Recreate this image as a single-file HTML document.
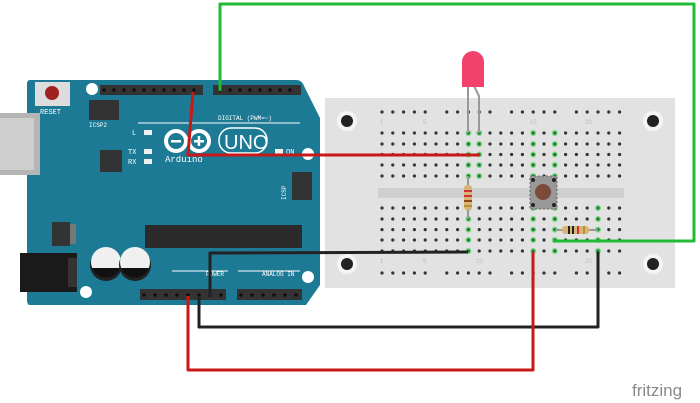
<!DOCTYPE html>
<html><head><meta charset="utf-8"><style>
html,body{margin:0;padding:0;background:#fff;width:700px;height:403px;overflow:hidden}
svg{display:block}
</style></head><body>
<svg id="s" width="700" height="403" viewBox="0 0 700 403" xmlns="http://www.w3.org/2000/svg" font-family="Liberation Mono, monospace">
<!-- breadboard -->
<rect x="325" y="98" width="350" height="190" fill="#e2e2e2"/>
<rect x="378" y="188" width="246" height="10" fill="#cfcfcf"/>
<g id="bbh"></g>
<circle cx="347" cy="121" r="10" fill="#f4f4f4"/><circle cx="347" cy="121" r="6" fill="#222"/>
<circle cx="347" cy="264" r="10" fill="#f4f4f4"/><circle cx="347" cy="264" r="6" fill="#222"/>
<circle cx="653" cy="121" r="10" fill="#f4f4f4"/><circle cx="653" cy="121" r="6" fill="#222"/>
<circle cx="653" cy="264" r="10" fill="#f4f4f4"/><circle cx="653" cy="264" r="6" fill="#222"/>
<g font-size="6" fill="#bbb" font-family="Liberation Sans, sans-serif">
<text x="380" y="124">1</text><text x="423" y="124">5</text><text x="530" y="124">15</text><text x="585" y="124">20</text>
<text x="380" y="263">1</text><text x="423" y="263">5</text><text x="476" y="263">10</text><text x="585" y="263">20</text>
</g>
<!-- Arduino -->
<path d="M30 80 L296 80 Q302 80 304 86 L320 118 L320 285 L306 305 L30 305 Q27 305 27 300 L27 84 Q27 80 30 80Z" fill="#1c7a94"/>
<rect x="0" y="113" width="40" height="62" fill="#b5b5b5"/><rect x="0" y="118" width="34" height="52" fill="#cfcfcf"/>
<rect x="20" y="253" width="57" height="39" fill="#1a1a1a"/><rect x="68" y="258" width="9" height="29" fill="#333"/>
<rect x="35" y="82" width="35" height="24" fill="#ddd"/><circle cx="52" cy="93" r="7" fill="#a12020"/>
<text x="40" y="114" font-size="7" fill="#fff">RESET</text>
<rect x="89" y="100" width="30" height="20" fill="#333"/>
<text x="89" y="127" font-size="6" fill="#fff">ICSP2</text>
<rect x="100" y="150" width="22" height="22" fill="#333"/>
<rect x="52" y="222" width="18" height="24" fill="#333"/><rect x="70" y="224" width="6" height="20" fill="#777"/>
<circle cx="106" cy="265" r="16" fill="#222"/><circle cx="106" cy="262" r="15" fill="#f0f0f0"/><path d="M92 268 A15 15 0 0 0 120 268Z" fill="#111"/>
<circle cx="135" cy="265" r="16" fill="#222"/><circle cx="135" cy="262" r="15" fill="#f0f0f0"/><path d="M121 268 A15 15 0 0 0 149 268Z" fill="#111"/>
<rect x="145" y="225" width="157" height="23" fill="#2a2a2a"/>
<rect x="100" y="85" width="103" height="10" fill="#333"/><rect x="213" y="85" width="88" height="10" fill="#333"/>
<rect x="140" y="289" width="86" height="11" fill="#333"/><rect x="237" y="289" width="65" height="11" fill="#333"/>
<g id="pins"></g>
<line x1="138" y1="123" x2="300" y2="123" stroke="#fff" stroke-width="1"/>
<text x="218" y="120" font-size="6" fill="#fff">DIGITAL (PWM=~)</text>
<rect x="144" y="130" width="8" height="5" fill="#eee"/><text x="132" y="135" font-size="7" fill="#fff">L</text>
<rect x="144" y="149" width="8" height="5" fill="#eee"/><text x="128" y="154" font-size="7" fill="#fff">TX</text>
<rect x="144" y="159" width="8" height="5" fill="#eee"/><text x="128" y="164" font-size="7" fill="#fff">RX</text>
<circle cx="176" cy="141" r="10" fill="none" stroke="#fff" stroke-width="4"/><circle cx="199" cy="141" r="10" fill="none" stroke="#fff" stroke-width="4"/>
<rect x="171" y="140" width="10" height="2.5" fill="#fff"/><rect x="194" y="140" width="10" height="2.5" fill="#fff"/><rect x="197.7" y="136" width="2.5" height="10" fill="#fff"/>
<rect x="219" y="128" width="48" height="25" rx="12" fill="none" stroke="#fff" stroke-width="1.5"/>
<text x="224" y="149" font-size="20" fill="#fff" font-family="Liberation Sans, sans-serif">UNO</text>
<text x="165" y="162" font-size="9" fill="#fff">Arduino</text>
<rect x="275" y="149" width="8" height="5" fill="#eee"/><text x="286" y="154" font-size="7" fill="#fff">ON</text>
<circle cx="308" cy="154" r="6" fill="#fff"/><circle cx="308" cy="277" r="6" fill="#fff"/>
<circle cx="92" cy="89" r="6" fill="#fff"/><circle cx="86" cy="292" r="6" fill="#fff"/>
<rect x="292" y="172" width="20" height="28" fill="#333"/>
<text x="286" y="200" font-size="6" fill="#fff" transform="rotate(-90 286 200)">ICSP</text>
<line x1="172" y1="271" x2="228" y2="271" stroke="#fff"/><line x1="238" y1="271" x2="300" y2="271" stroke="#fff"/>
<text x="206" y="276" font-size="6" fill="#fff">POWER</text><text x="262" y="276" font-size="6" fill="#fff">ANALOG IN</text>
<!-- LED -->
<line x1="468" y1="85" x2="468" y2="133" stroke="#999" stroke-width="2"/>
<path d="M474 86 L479 96 L479 133" fill="none" stroke="#999" stroke-width="2"/>
<path d="M462 87 L462 62 A11 11 0 0 1 484 62 L484 87Z" fill="#f2416a"/>
<!-- resistor 1 -->
<line x1="468" y1="176" x2="468" y2="219" stroke="#999" stroke-width="2"/>
<rect x="464" y="185" width="8" height="25" rx="3" fill="#d8b576"/>
<rect x="464" y="190" width="8" height="2" fill="#c33"/><rect x="464" y="195" width="8" height="2" fill="#c33"/><rect x="464" y="200" width="8" height="2" fill="#8a4a1a"/><rect x="464" y="205" width="8" height="2" fill="#b89030"/>
<!-- button -->
<rect x="530" y="176" width="27" height="33" fill="#999" stroke="#666" stroke-dasharray="2 2"/>
<circle cx="543" cy="192" r="8" fill="#7a4a3a"/>
<circle cx="533" cy="180" r="2" fill="#222"/><circle cx="554" cy="180" r="2" fill="#222"/><circle cx="533" cy="205" r="2" fill="#222"/><circle cx="554" cy="205" r="2" fill="#222"/>
<!-- resistor 2 -->
<line x1="555" y1="230" x2="598" y2="230" stroke="#999" stroke-width="2"/>
<rect x="562" y="226" width="27" height="8" rx="3" fill="#d8b576"/>
<rect x="568" y="226" width="2" height="8" fill="#222"/><rect x="572" y="226" width="2" height="8" fill="#222"/><rect x="577" y="226" width="2" height="8" fill="#c33"/><rect x="583" y="226" width="2" height="8" fill="#b89030"/>
<!-- wires -->
<g fill="none" stroke-width="3" stroke-linejoin="round">
<polyline points="220,91 220,4 694,4 694,241 553,241" stroke="#22bb33"/>
<polyline points="193,92 188,155 479,155" stroke="#c81818"/>
<polyline points="210,296 210,253 468,252" stroke="#222"/>
<polyline points="199,296 199,327 598,327 598,252" stroke="#222"/>
<polyline points="188,296 188,370 533,370 533,252" stroke="#c81818"/>
</g>
<text x="632" y="396" font-size="17" fill="#8a8a8a" font-family="Liberation Sans, sans-serif">fritzing</text>
</svg>
<script>
var NS="http://www.w3.org/2000/svg",g=document.getElementById("bbh");
function c(x,y,r,f,p){var e=document.createElementNS(NS,"circle");e.setAttribute("cx",x);e.setAttribute("cy",y);e.setAttribute("r",r);e.setAttribute("fill",f);(p||g).appendChild(e);}
var rows=[133,144,154.5,165,176,208,219,229.6,240,251];
var green={9:[0,1,2,3,4,5,6,7,8,9],10:[0,1,2,3,4],15:[0,1,2,3,4,5,6,7,8,9],17:[0,1,2,3,4,5,6,7,8,9],21:[5,6,7,8,9]};
for(var col=1;col<=23;col++){var x=382+(col-1)*10.8;
 for(var r=0;r<10;r++){var gr=green[col]&&green[col].indexOf(r)>=0;
  if(gr)c(x,rows[r],3,"#7fd68a");c(x,rows[r],1.6,gr?"#1a7a2a":"#333");}
 if(col%6!=0){c(x,112,1.6,"#333");c(x,273,1.6,"#333");}}
var p=document.getElementById("pins");
for(var x=104;x<203;x+=10)c(x,90,1.8,"#111",p);
for(var x=220;x<300;x+=10)c(x,90,1.8,"#111",p);
for(var x=144;x<226;x+=11)c(x,295,1.8,"#111",p);
for(var x=241;x<302;x+=11)c(x,295,1.8,"#111",p);
</script>
</body></html>
